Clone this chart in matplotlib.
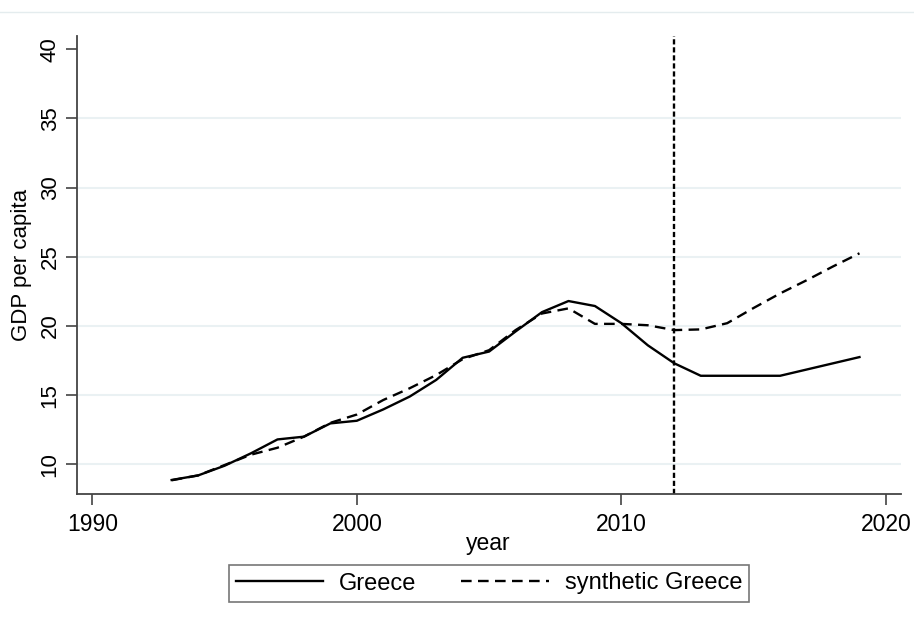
import matplotlib
matplotlib.use("Agg")
import matplotlib.pyplot as plt
from matplotlib.lines import Line2D

plt.rcParams['font.family'] = ['Liberation Sans', 'DejaVu Sans']

# data
years = list(range(1993, 2020))
greece = [8.87, 9.2, 9.9, 10.8, 11.8, 12.0, 12.96, 13.15, 13.97, 14.9,
          16.1, 17.7, 18.15, 19.6, 21.0, 21.8, 21.44, 20.2, 18.6, 17.3,
          16.4, 16.4, 16.4, 16.4, 16.85, 17.3, 17.75]
synth = [8.85, 9.2, 9.95, 10.7, 11.2, 12.0, 13.0, 13.6, 14.65, 15.5,
         16.45, 17.6, 18.25, 19.7, 20.9, 21.27, 20.15, 20.15, 20.05, 19.7,
         19.75, 20.2, 21.3, 22.35, 23.3, 24.3, 25.25]
treat_year = 2012
xticks = [1990, 2000, 2010, 2020]
yticks = [10, 15, 20, 25, 30, 35, 40]

fig = plt.figure(figsize=(9.14, 6.25), dpi=100)
ax = fig.add_axes([0.0839, 0.2101, 0.9016, 0.7323])

grid_c = "#eaf1f3"
for y in yticks[:-1]:
    ax.axhline(y, color=grid_c, lw=1.5, zorder=0)

ax.plot(years, greece, color="black", lw=1.7, label="Greece")
ax.plot(years, synth, color="black", lw=1.7, ls=(0, (4.5, 2.7)), label="synthetic Greece")
ax.axvline(treat_year, color="black", lw=1.7, ls=(0, (2.2, 1.2)))

ax.set_xlim(1989.41, 2020.56)
ax.set_ylim(7.88, 40.95)
ax.set_xticks(xticks)
ax.set_yticks(yticks)
ax.tick_params(axis="both", length=8, width=1.1, color="#333333")
ax.tick_params(axis="x", labelsize=16.5, pad=6)
ax.tick_params(axis="y", labelsize=16, pad=3.5)
plt.setp(ax.get_yticklabels(), rotation=90, va="center")

for s in ["top", "right"]:
    ax.spines[s].set_visible(False)
for s in ["left", "bottom"]:
    ax.spines[s].set_color("#444444")
    ax.spines[s].set_linewidth(1.3)

ax.set_xlabel("year", fontsize=16.5, labelpad=-3)
ax.set_ylabel("GDP per capita", fontsize=16)
ax.yaxis.set_label_coords(-0.0664, 0.5)
ax.yaxis.label.set_verticalalignment("center")

# faint border line at the top of the graph region
fig.add_artist(Line2D([0, 1], [1 - 12 / 625, 1 - 12 / 625], color="#e4ecee", lw=1,
                      transform=fig.transFigure))

leg = fig.legend(loc="center", bbox_to_anchor=(489 / 914, 1 - 583.5 / 625), ncol=2,
                 fontsize=17, frameon=True, fancybox=False, handlelength=3.7,
                 handletextpad=0.68, columnspacing=1.9, borderpad=0.3)
leg.get_frame().set_edgecolor("#555555")
leg.get_frame().set_linewidth(1.2)

fig.savefig("out.png", dpi=100)
